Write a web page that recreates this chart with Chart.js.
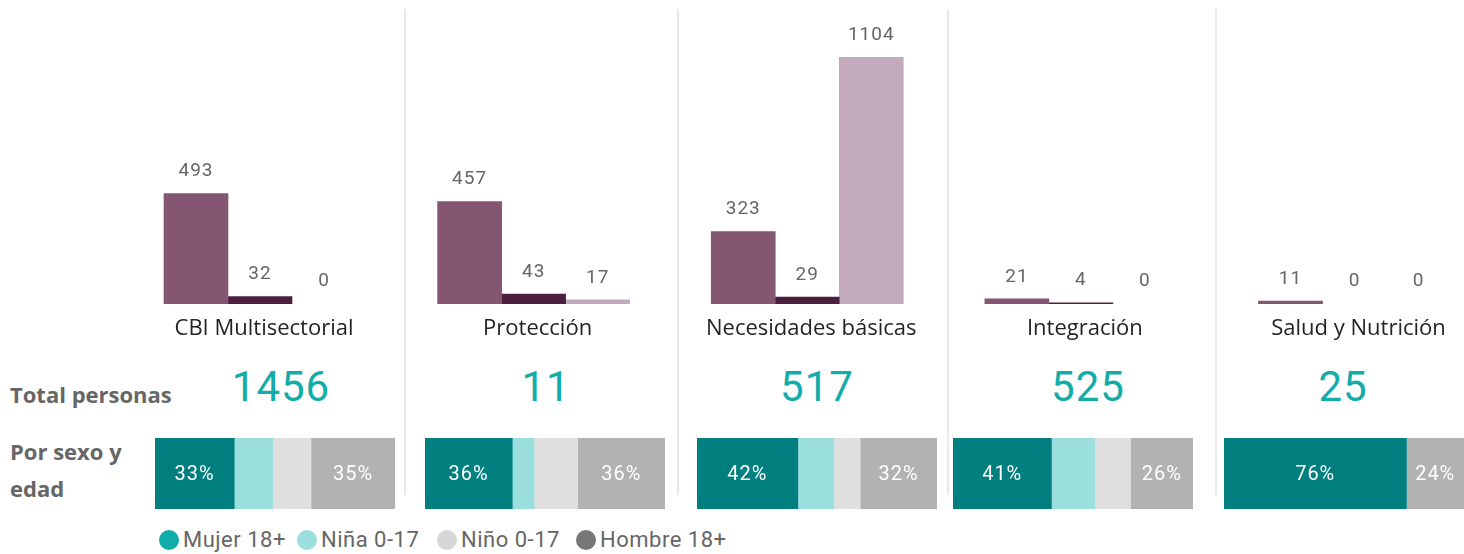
<!DOCTYPE html>
<html lang="es">
<head>
<meta charset="utf-8">
<script src="https://cdn.jsdelivr.net/npm/chart.js@4/dist/chart.umd.min.js"></script>
<style>
  body { margin: 0; width: 1464px; height: 554px; overflow: hidden; background: #fff; position: relative; font-family: "Open Sans", sans-serif; }
  canvas { position: absolute; }
  .sep { position: absolute; top: 9px; width: 2px; height: 486px; background: #e9e9e9; }
  .side { position: absolute; left: 10px; color: #666; font-weight: 700; font-size: 22px; line-height: 37px; }
  .total { position: absolute; top: 362px; width: 200px; margin-left: -100px; text-align: center; font-family: Roboto, sans-serif; font-size: 42px; line-height: 50px; color: #12aca9; letter-spacing: 1px; }
  .item { position: absolute; top: 527px; display: flex; align-items: center; font-family: Roboto, sans-serif; font-size: 22px; color: #666; line-height: 26px; white-space: nowrap; letter-spacing: 0.5px; }
  .dot { width: 20px; height: 20px; border-radius: 50%; margin-right: 4px; display: inline-block; }
</style>
</head>
<body>
<div class="sep" style="left:404px"></div>
<div class="sep" style="left:677px"></div>
<div class="sep" style="left:947px"></div>
<div class="sep" style="left:1215px"></div>

<div class="side" style="top:376px">Total personas</div>
<div class="side" style="top:433px">Por sexo y<br>edad</div>

<canvas id="barras" width="1464" height="360" style="left:0;top:0"></canvas>
<div id="cards"></div>
<div id="legend"></div>

<script>
// categorias y valores de las columnas
const categorias = ["CBI Multisectorial", "Protección", "Necesidades básicas", "Integración", "Salud y Nutrición"];
const serieA = [493, 457, 323, 21, 11];
const serieB = [32, 43, 29, 4, 0];
const serieC = [0, 17, 1104, 0, 0];

// total personas por sector
const totales = [1456, 11, 517, 525, 25];

// reparto por sexo y edad (%)
const grupos = ["Mujer 18+", "Niña 0-17", "Niño 0-17", "Hombre 18+"];
const mujer = [33, 36, 42, 41, 76];
const nina = [16, 9, 15, 18, 0];
const nino = [16, 18, 11, 15, 0];
const hombre = [35, 36, 32, 26, 24];

const coloresColumnas = ["#845671", "#4d1f3e", "#c2aabc"];
const coloresReparto = ["#017f7f", "#9adede", "#dfdfdf", "#b2b2b2"];
const coloresLeyenda = ["#0fada9", "#9adede", "#d6d6d6", "#767676"];

Chart.defaults.animation = false;
Chart.defaults.font.family = "Roboto, sans-serif";

const etiquetasColumnas = {
  id: "etiquetasColumnas",
  afterDatasetsDraw(chart) {
    const ctx = chart.ctx;
    ctx.save();
    ctx.font = "19px Roboto, sans-serif";
    ctx.letterSpacing = "1px";
    ctx.fillStyle = "#666";
    ctx.textAlign = "center";
    ctx.textBaseline = "middle";
    chart.data.datasets.forEach((ds, i) => {
      chart.getDatasetMeta(i).data.forEach((el, j) => {
        ctx.fillText(String(ds.data[j]), el.x, el.y - 22);
      });
    });
    ctx.restore();
  }
};

// columnas a cero sin marca visible
const colorSiNoCero = (color) => (c) => (c.raw === 0 ? "rgba(0,0,0,0)" : color);

new Chart(document.getElementById("barras"), {
  type: "bar",
  data: {
    labels: categorias,
    datasets: [
      { data: serieA, backgroundColor: colorSiNoCero(coloresColumnas[0]) },
      { data: serieB, backgroundColor: colorSiNoCero(coloresColumnas[1]) },
      { data: serieC, backgroundColor: colorSiNoCero(coloresColumnas[2]) }
    ]
  },
  options: {
    responsive: false,
    devicePixelRatio: 1,
    layout: { padding: { left: 260, right: 109.5, top: 36, bottom: 6 } },
    datasets: { bar: { barThickness: 64, clip: false } },
    plugins: { legend: { display: false }, tooltip: { enabled: false } },
    scales: {
      x: {
        offset: false,
        grid: { display: false, drawTicks: false },
        border: { display: false },
        ticks: {
          autoSkip: false, maxRotation: 0, padding: 12, labelOffset: 4,
          color: "#252423", font: { family: "'Open Sans', sans-serif", size: 22 }
        }
      },
      y: { display: false, min: 0, max: 1200 }
    }
  },
  plugins: [etiquetasColumnas]
});

const etiquetasReparto = {
  id: "etiquetasReparto",
  afterDatasetsDraw(chart) {
    const ctx = chart.ctx;
    ctx.save();
    ctx.font = "20px Roboto, sans-serif";
    ctx.letterSpacing = "1px";
    ctx.fillStyle = "#fff";
    ctx.textAlign = "center";
    ctx.textBaseline = "middle";
    chart.data.datasets.forEach((ds, i) => {
      const el = chart.getDatasetMeta(i).data[0];
      if (Math.abs(el.x - el.base) >= 50) {
        ctx.fillText(Math.round(ds.data[0]) + "%", (el.x + el.base) / 2, el.y + 1);
      }
    });
    ctx.restore();
  }
};

const repartoPorGrupo = [mujer, nina, nino, hombre];
const izquierdas = [155, 425, 697, 953, 1224];
const centrosTotal = [281, 546, 817, 1088, 1343];
const cards = document.getElementById("cards");

categorias.forEach((cat, i) => {
  const t = document.createElement("div");
  t.className = "total";
  t.style.left = centrosTotal[i] + "px";
  t.textContent = totales[i];
  cards.appendChild(t);

  const cv = document.createElement("canvas");
  cv.width = 240;
  cv.height = 71;
  cv.style.left = izquierdas[i] + "px";
  cv.style.top = "438px";
  cards.appendChild(cv);

  const suma = repartoPorGrupo.reduce((s, g) => s + g[i], 0);
  new Chart(cv, {
    type: "bar",
    data: {
      labels: [cat],
      datasets: grupos.map((g, k) => ({
        label: g,
        data: [repartoPorGrupo[k][i] / suma * 100],
        backgroundColor: coloresReparto[k]
      }))
    },
    options: {
      indexAxis: "y",
      responsive: false,
      devicePixelRatio: 1,
      layout: { padding: 0 },
      datasets: { bar: { barPercentage: 1, categoryPercentage: 1 } },
      plugins: { legend: { display: false }, tooltip: { enabled: false } },
      scales: {
        x: { stacked: true, display: false, min: 0, max: 100 },
        y: { stacked: true, display: false }
      }
    },
    plugins: [etiquetasReparto]
  });
});

const legend = document.getElementById("legend");
const leyendaX = [159, 297, 437, 576];
grupos.forEach((g, k) => {
  const item = document.createElement("span");
  item.className = "item";
  item.style.left = leyendaX[k] + "px";
  const dot = document.createElement("span");
  dot.className = "dot";
  dot.style.background = coloresLeyenda[k];
  item.appendChild(dot);
  item.appendChild(document.createTextNode(g));
  legend.appendChild(item);
});
</script>
</body>
</html>
